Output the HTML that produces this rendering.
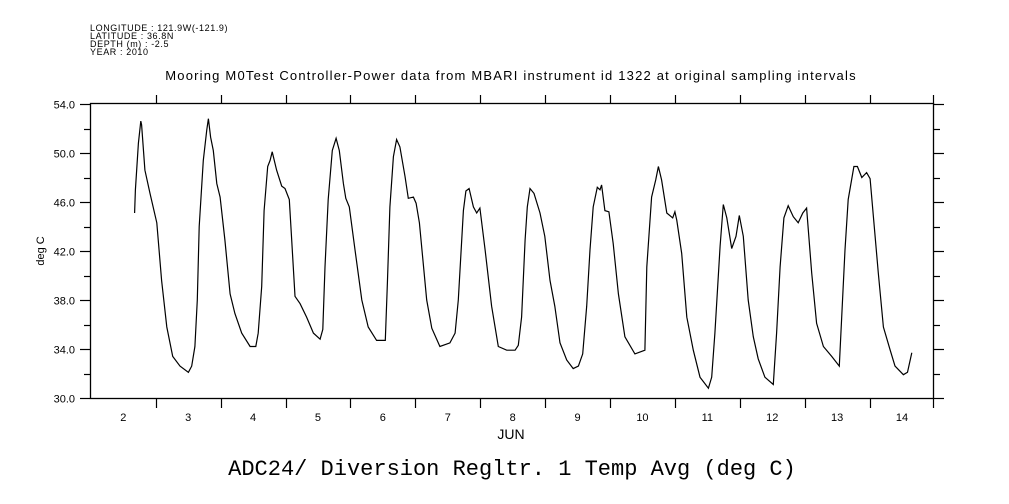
<!DOCTYPE html>
<html><head><meta charset="utf-8"><style>
body{margin:0;background:#fff;width:1009px;height:504px;overflow:hidden}
svg{display:block}
text{font-family:"Liberation Sans",sans-serif;fill:#000}
</style></head><body>
<svg id="chart" width="1009" height="504" viewBox="0 0 1009 504" xmlns="http://www.w3.org/2000/svg">
<g>
<text x="90" y="31" style="font-size:9px;letter-spacing:0.6px">LONGITUDE : 121.9W(-121.9)</text>
<text x="90" y="39" style="font-size:9px;letter-spacing:0.6px">LATITUDE : 36.8N</text>
<text x="90" y="47" style="font-size:9px;letter-spacing:0.6px">DEPTH (m) : -2.5</text>
<text x="90" y="55" style="font-size:9px;letter-spacing:0.6px">YEAR : 2010</text>
</g>
<text x="511" y="80" text-anchor="middle" style="font-size:13px;letter-spacing:1.2px">Mooring M0Test Controller-Power data from MBARI instrument id 1322 at original sampling intervals</text>
<text transform="translate(44,251) rotate(-90)" text-anchor="middle" style="font-size:11px">deg C</text>
<text x="511" y="439" text-anchor="middle" style="font-size:14px">JUN</text>
<text x="512" y="475" text-anchor="middle" style="font-family:'Liberation Mono',monospace;font-size:22px">ADC24/ Diversion Regltr. 1 Temp Avg (deg C)</text>
<rect x="90.5" y="103.5" width="843" height="295" fill="none" stroke="#000" stroke-width="1.3"/>
<g id="axes"></g>
<path id="line" fill="none" stroke="#000" stroke-width="1.2"/>
</svg>
<script>
// hours since 2010-06-02 00:00
const hours=[16.2,16.5,17.6,18.5,18.8,20.0,21.9,24.4,26.2,28.1,30.3,33.0,36.1,37.3,38.5,39.4,40.1,41.6,42.9,43.5,44.3,45.3,46.6,47.8,49.6,51.5,53.3,55.8,58.9,61.0,61.9,63.2,64.1,65.4,66.3,67.1,68.7,70.6,71.8,73.4,74.3,75.5,77.4,79.8,82.3,84.8,85.8,86.6,87.8,89.3,90.7,91.9,93.4,94.3,95.6,97.7,100.2,102.6,105.7,108.9,109.7,110.6,111.9,113.1,114.3,116.2,117.4,119.3,120.3,121.5,124.2,126.1,129.1,132.8,134.7,135.9,137.8,138.7,139.9,141.5,142.7,143.9,145.8,148.2,150.7,153.8,156.9,158.1,159.3,160.6,161.4,162.4,163.9,166.1,167.9,169.8,171.6,173.5,176.0,178.4,180.3,181.9,183.4,184.6,185.8,187.3,188.3,188.9,190.1,191.6,193.2,195.1,197.5,201.2,204.9,205.6,207.4,208.9,209.9,211.1,213.0,215.2,216.0,216.7,218.5,220.4,222.8,225.3,228.4,229.6,230.8,232.7,233.9,235.2,237.0,238.6,239.8,241.3,243.1,245.0,246.8,249.3,252.4,253.6,254.9,256.3,257.9,259.8,261.6,263.3,264.7,266.6,268.4,270.9,274.0,276.8,277.7,278.9,280.1,282.2,283.5,285.1,286.9,288.2,289.4,291.2,293.1,295.6,297.4,300.5,302.0,303.6];
const temps=[45.1,47.0,50.8,52.6,52.3,48.6,46.7,44.3,39.6,35.8,33.4,32.6,32.1,32.6,34.2,38.0,44.0,49.4,51.9,52.8,51.3,50.2,47.5,46.4,42.9,38.5,36.9,35.3,34.2,34.2,35.3,39.1,45.3,48.9,49.4,50.1,48.6,47.3,47.1,46.2,42.9,38.3,37.7,36.6,35.3,34.8,35.6,40.7,46.2,50.2,51.2,50.2,47.5,46.3,45.6,42.1,38.0,35.8,34.7,34.7,39.4,45.6,49.7,51.1,50.5,48.1,46.3,46.4,45.9,44.3,38.0,35.7,34.2,34.5,35.3,38.0,45.3,46.9,47.1,45.6,45.1,45.5,42.1,37.5,34.2,33.9,33.9,34.3,36.6,42.9,45.6,47.1,46.7,45.1,43.2,39.6,37.5,34.5,33.1,32.4,32.6,33.6,37.5,42.1,45.6,47.2,47.0,47.4,45.3,45.2,42.6,38.5,35.0,33.6,33.9,40.7,46.4,47.8,48.9,47.8,45.1,44.7,45.2,44.5,41.8,36.6,33.9,31.7,30.8,31.7,35.3,42.4,45.8,44.7,42.2,43.2,44.9,43.2,38.0,35.0,33.2,31.7,31.1,35.3,40.7,44.7,45.7,44.8,44.3,45.1,45.5,40.2,36.1,34.2,33.4,32.6,36.6,42.1,46.2,48.9,48.9,48.0,48.4,47.9,44.8,40.2,35.8,33.9,32.6,31.9,32.1,33.7];
const yTicks=[30,32,34,36,38,40,42,44,46,48,50,52,54];
const yLabels=["30.0","34.0","38.0","42.0","46.0","50.0","54.0"];
const dayLabels=["2","3","4","5","6","7","8","9","10","11","12","13","14"];
const X0=90.8,PXDAY=64.9,Y0=398,Y1=104,TMIN=30,TMAX=54;
function xH(h){return X0+h*PXDAY/24;}
function yT(t){return Y0-(t-TMIN)*(Y0-Y1)/(TMAX-TMIN);}
const NS="http://www.w3.org/2000/svg";
const ax=document.getElementById('axes');
function ln(x1,y1,x2,y2){const l=document.createElementNS(NS,'line');l.setAttribute('x1',x1);l.setAttribute('y1',y1);l.setAttribute('x2',x2);l.setAttribute('y2',y2);l.setAttribute('stroke','#000');l.setAttribute('stroke-width','1.2');ax.appendChild(l);return l;}
function tx(x,y,s,anchor){const t=document.createElementNS(NS,'text');t.setAttribute('x',x);t.setAttribute('y',y);t.setAttribute('text-anchor',anchor);t.setAttribute('style','font-size:11px');t.textContent=s;ax.appendChild(t);return t;}
yTicks.forEach(v=>{const y=Math.round(yT(v))+0.5;const major=yLabels.includes(v.toFixed(1));
 const a=ln(major?80:84,y,90,y);
 
 
 const b=ln(933,y,major?944:940,y);
 
 
 if(major){const t=tx(75,y+4,v.toFixed(1),'end');
 
 }
});
for(let d=1;d<13;d++){const x=Math.round(xH(d*24))+0.5;
 const a=ln(x,95,x,104);
 
 
 const b=ln(x,398,x,408);
 
 }
{const a=ln(933.5,398,933.5,408);
 
 
 const b=ln(933.5,95,933.5,104);
 
 }
dayLabels.forEach((s,i)=>{const t=tx(xH(i*24+12),421,s,'middle');
 
 });
document.getElementById('line').setAttribute('d',hours.map((h,i)=>(i?'L':'M')+xH(h).toFixed(1)+','+yT(temps[i]).toFixed(1)).join(''));
</script>
</body></html>
